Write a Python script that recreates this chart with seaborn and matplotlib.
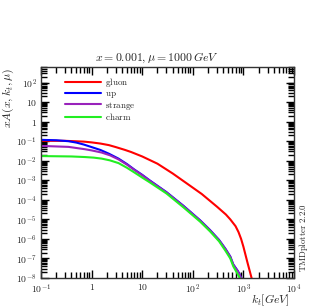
import numpy as np
import pandas as pd
import seaborn as sns
import matplotlib
matplotlib.use("Agg")
import matplotlib.pyplot as plt
from matplotlib.ticker import FixedLocator, NullFormatter

# (kt in GeV, log10 of xA)
gluon_kt = [0.1, 0.3, 0.7, 1.0, 1.5, 2.2, 3, 4.5, 6, 10, 20, 40, 80, 150, 300, 450, 550, 700,
            800, 900, 1000, 1200, 1450, 1600]
gluon_log = [-0.98, -0.98, -1.02, -1.06, -1.12, -1.2, -1.3, -1.44, -1.55, -1.78, -2.15, -2.65,
             -3.2, -3.7, -4.35, -4.75, -5.0, -5.35, -5.65, -6.0, -6.4, -7.2, -8.0, -8.7]
up_kt = [0.1, 0.2, 0.35, 0.5, 0.7, 1.0, 1.5, 2.2, 3.4, 5, 7, 10, 14, 30, 65, 140, 220, 330, 440,
         550, 630, 780, 930, 1000]
up_log = [-0.93, -0.95, -1.0, -1.07, -1.17, -1.3, -1.45, -1.64, -1.89, -2.17, -2.45, -2.72, -3.0,
          -3.6, -4.3, -5.05, -5.55, -6.05, -6.5, -6.9, -7.3, -7.65, -8.05, -8.6]
strange_kt = [0.1, 0.35, 0.74, 1.0, 1.58, 2.3, 3.4, 5, 7, 10, 14, 30, 65, 140, 220, 330, 440, 550,
              630, 780, 930, 1000]
strange_log = [-1.24, -1.29, -1.41, -1.47, -1.58, -1.72, -1.93, -2.2, -2.47, -2.74, -3.02, -3.62,
               -4.32, -5.07, -5.57, -6.07, -6.52, -6.92, -7.32, -7.67, -8.07, -8.6]
charm_kt = [0.1, 0.4, 0.74, 1.1, 1.58, 2.3, 3.4, 5, 7.2, 10, 14, 30, 65, 140, 220, 330, 440, 550,
            630, 750, 870, 950]
charm_log = [-1.76, -1.78, -1.81, -1.84, -1.89, -1.98, -2.12, -2.36, -2.62, -2.86, -3.1, -3.67,
             -4.38, -5.12, -5.62, -6.12, -6.6, -7.0, -7.4, -7.75, -8.05, -8.6]

flavours = ["gluon", "up", "strange", "charm"]
colours = ["#ff0000", "#0000ff", "#9922bb", "#22ee22"]

x_ticks = [0.1, 1, 10, 100, 1000, 10000]
x_labels = ["$10^{-1}$", "$1$", "$10$", "$10^{2}$", "$10^{3}$", "$10^{4}$"]
y_ticks = [1e-8, 1e-7, 1e-6, 1e-5, 1e-4, 1e-3, 1e-2, 1e-1, 1, 10, 100]
y_labels = ["$10^{-8}$", "$10^{-7}$", "$10^{-6}$", "$10^{-5}$", "$10^{-4}$", "$10^{-3}$",
            "$10^{-2}$", "$10^{-1}$", "$1$", "$10$", "$10^{2}$"]

frames = []
for name, kt, lg in zip(flavours, [gluon_kt, up_kt, strange_kt, charm_kt],
                        [gluon_log, up_log, strange_log, charm_log]):
    frames.append(pd.DataFrame({"kt": kt, "xA": np.power(10.0, lg),
                                "flavour": r"$\mathrm{%s}$" % name}))
df = pd.concat(frames, ignore_index=True)

sns.set_style("ticks")
plt.rcParams["mathtext.fontset"] = "cm"
plt.rcParams["font.family"] = ["DejaVu Serif"]

fig = plt.figure(figsize=(3.09, 3.07), dpi=100)
ax = fig.add_axes([0.1327, 0.0945, 0.8188, 0.6873])

sns.lineplot(data=df, x="kt", y="xA", hue="flavour", palette=colours, linewidth=1.5,
             ax=ax, sort=False, estimator=None)

ax.set_xscale("log")
ax.set_yscale("log")
ax.set_xlim(0.1, 1e4)
ax.set_ylim(1e-8, 630)

# minor ticks 2..9 in every decade
x_minor = [m * 10.0 ** e for e in range(-1, 4) for m in range(2, 10)]
y_minor = [m * 10.0 ** e for e in range(-8, 3) for m in range(2, 10)]
ax.set_xticks(x_ticks)
ax.set_xticklabels(x_labels, fontsize=7)
ax.set_yticks(y_ticks)
ax.set_yticklabels(y_labels, fontsize=7)
ax.xaxis.set_minor_locator(FixedLocator(x_minor))
ax.yaxis.set_minor_locator(FixedLocator(y_minor))
ax.xaxis.set_minor_formatter(NullFormatter())
ax.yaxis.set_minor_formatter(NullFormatter())
ax.tick_params(which="both", direction="in", top=True, right=True, bottom=True, left=True,
               color="black")
ax.tick_params(which="major", length=6, width=1.0, pad=3)
ax.tick_params(which="minor", length=4, width=1.0)
for sp in ax.spines.values():
    sp.set_color("#333333")
    sp.set_linewidth(1.0)

ax.set_xlabel(r"$k_t[GeV]$", fontsize=8.5)
ax.xaxis.set_label_coords(0.985, -0.068)
ax.xaxis.label.set_horizontalalignment("right")
ax.set_ylabel(r"$xA(x,k_t,\mu)$", fontsize=8.5)
ax.yaxis.set_label_coords(-0.1, 0.855)

fig.text(0.508, 0.811, r"$x = 0.001, \mu = 1000\,GeV$", fontsize=8.5, ha="center", va="center")
fig.text(0.981, 0.114, r"$\mathrm{TMDplotter\ 2.2.0}$", fontsize=6.3, rotation=90,
         ha="center", va="bottom")

ax.legend(loc="upper left", bbox_to_anchor=(0.07, 0.985), frameon=False, fontsize=6.5,
          handlelength=4.0, labelspacing=-0.05, handletextpad=0.4, borderpad=0.2)

fig.savefig("out.png", dpi=100)
